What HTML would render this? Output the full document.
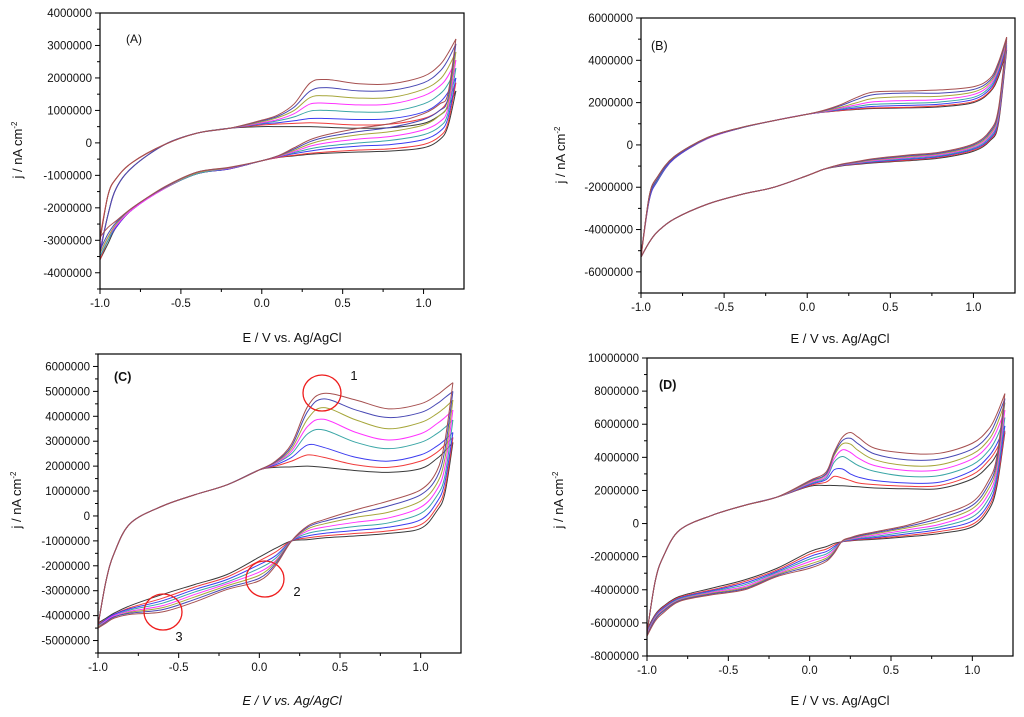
<!DOCTYPE html>
<html><head><meta charset="utf-8">
<style>
html,body{margin:0;padding:0;background:#fff;}
svg{display:block;}
text{font-family:"Liberation Sans",Arial,sans-serif;}
</style></head>
<body>
<svg id="fig" width="1024" height="717" viewBox="0 0 1024 717" xmlns="http://www.w3.org/2000/svg"></svg>
<script>
// ---------- DATA (currents in units of 1e6 nA cm^-2) ----------
const seriesNames = ["scan-1","scan-2","scan-3","scan-4","scan-5","scan-6","scan-7","scan-8"];
const seriesColors = ["#3a3a3a","#f03c3c","#3c3cf0","#3aa6a6","#ff33ff","#a6a63a","#4848b4","#a65050"];

const gridA = [-1,-0.95,-0.9,-0.8,-0.6,-0.4,-0.2,0,0.1,0.2,0.3,0.4,0.6,0.8,1.0,1.1,1.15,1.2];
const upperA = [
 [-3.0,-1.6,-1.1,-0.6,-0.05,0.3,0.45,0.5,0.5,0.5,0.5,0.48,0.45,0.47,0.6,0.85,1.1,1.6],
 [-2.9,-1.6,-1.1,-0.6,-0.05,0.3,0.45,0.55,0.58,0.6,0.62,0.6,0.55,0.58,0.75,1.0,1.3,1.85],
 [-3.3,-2.2,-1.4,-0.75,-0.05,0.3,0.45,0.58,0.62,0.68,0.75,0.75,0.72,0.75,0.95,1.25,1.55,2.0],
 [-3.3,-2.2,-1.4,-0.75,-0.05,0.3,0.45,0.6,0.68,0.8,0.98,1.0,0.95,0.97,1.2,1.5,1.8,2.3],
 [-3.3,-2.2,-1.4,-0.75,-0.05,0.3,0.45,0.62,0.72,0.9,1.2,1.22,1.17,1.2,1.45,1.75,2.05,2.55],
 [-3.4,-2.2,-1.4,-0.75,-0.05,0.3,0.45,0.65,0.78,1.0,1.4,1.45,1.38,1.4,1.65,1.95,2.3,2.8],
 [-3.4,-2.2,-1.4,-0.75,-0.05,0.3,0.45,0.68,0.82,1.1,1.6,1.7,1.6,1.62,1.85,2.2,2.55,3.05],
 [-3.0,-1.6,-1.1,-0.6,-0.05,0.3,0.45,0.7,0.86,1.2,1.85,1.95,1.82,1.82,2.05,2.4,2.75,3.2]
];
const lowerA = [
 [-3.6,-3.1,-2.6,-2.05,-1.4,-0.95,-0.8,-0.55,-0.45,-0.4,-0.35,-0.32,-0.28,-0.25,-0.15,0.1,0.5,1.6],
 [-3.6,-3.0,-2.6,-2.05,-1.4,-0.95,-0.8,-0.55,-0.45,-0.38,-0.32,-0.28,-0.22,-0.18,-0.05,0.2,0.6,1.85],
 [-3.5,-3.0,-2.6,-2.05,-1.4,-0.95,-0.8,-0.55,-0.43,-0.33,-0.25,-0.18,-0.1,-0.05,0.1,0.35,0.75,2.0],
 [-3.5,-3.0,-2.55,-2.05,-1.4,-0.95,-0.78,-0.55,-0.42,-0.3,-0.18,-0.1,0.0,0.08,0.25,0.5,0.9,2.3],
 [-3.4,-2.9,-2.55,-2.05,-1.4,-0.92,-0.78,-0.55,-0.42,-0.27,-0.1,0.0,0.12,0.2,0.4,0.65,1.05,2.55],
 [-3.4,-2.9,-2.5,-2.0,-1.38,-0.92,-0.77,-0.55,-0.41,-0.23,-0.03,0.1,0.25,0.35,0.55,0.85,1.2,2.8],
 [-3.3,-2.8,-2.45,-2.0,-1.37,-0.9,-0.76,-0.55,-0.4,-0.19,0.04,0.18,0.35,0.48,0.72,1.0,1.35,3.05],
 [-2.9,-2.6,-2.4,-2.0,-1.35,-0.9,-0.75,-0.55,-0.4,-0.15,0.1,0.25,0.45,0.6,0.9,1.2,1.5,3.2]
];

const gridB = [-1,-0.95,-0.9,-0.8,-0.6,-0.4,-0.2,0,0.1,0.2,0.3,0.4,0.6,0.8,1.0,1.1,1.15,1.2];
const upperB = [
 [-5.3,-2.4,-1.5,-0.55,0.35,0.82,1.15,1.45,1.55,1.62,1.68,1.72,1.75,1.8,2.0,2.5,3.2,4.5],
 [-5.3,-2.6,-1.7,-0.65,0.3,0.8,1.15,1.45,1.55,1.63,1.7,1.75,1.78,1.85,2.05,2.55,3.3,4.6],
 [-5.2,-2.6,-1.7,-0.65,0.3,0.8,1.15,1.45,1.56,1.66,1.75,1.82,1.87,1.93,2.15,2.65,3.4,4.7],
 [-5.2,-2.5,-1.65,-0.6,0.3,0.8,1.15,1.45,1.57,1.7,1.82,1.92,1.97,2.03,2.25,2.75,3.5,4.8],
 [-5.2,-2.5,-1.6,-0.6,0.3,0.8,1.15,1.45,1.58,1.74,1.9,2.04,2.1,2.15,2.38,2.85,3.6,4.9],
 [-5.2,-2.5,-1.6,-0.6,0.32,0.8,1.15,1.45,1.6,1.78,2.0,2.2,2.28,2.3,2.5,2.95,3.7,5.0],
 [-5.2,-2.5,-1.6,-0.6,0.32,0.8,1.15,1.45,1.62,1.85,2.15,2.38,2.45,2.45,2.62,3.05,3.8,5.05],
 [-5.3,-2.4,-1.5,-0.55,0.35,0.82,1.15,1.45,1.64,1.9,2.25,2.5,2.55,2.6,2.75,3.15,3.9,5.1]
];
const lowerB = [
 [-5.3,-4.6,-4.1,-3.5,-2.8,-2.35,-2.0,-1.45,-1.15,-1.0,-0.92,-0.85,-0.75,-0.62,-0.3,0.2,1.0,4.5],
 [-5.3,-4.6,-4.1,-3.5,-2.8,-2.35,-2.0,-1.45,-1.15,-0.98,-0.9,-0.82,-0.72,-0.58,-0.25,0.25,1.1,4.6],
 [-5.3,-4.6,-4.1,-3.5,-2.8,-2.35,-2.0,-1.45,-1.15,-0.97,-0.88,-0.8,-0.68,-0.54,-0.2,0.3,1.2,4.7],
 [-5.3,-4.6,-4.1,-3.5,-2.8,-2.35,-2.0,-1.45,-1.15,-0.96,-0.86,-0.77,-0.64,-0.5,-0.15,0.38,1.3,4.8],
 [-5.3,-4.6,-4.1,-3.5,-2.8,-2.35,-2.0,-1.45,-1.15,-0.95,-0.84,-0.74,-0.6,-0.46,-0.1,0.45,1.4,4.9],
 [-5.3,-4.6,-4.1,-3.5,-2.8,-2.35,-2.0,-1.45,-1.15,-0.94,-0.82,-0.71,-0.56,-0.42,-0.05,0.52,1.5,5.0],
 [-5.3,-4.6,-4.1,-3.5,-2.8,-2.35,-2.0,-1.45,-1.15,-0.93,-0.8,-0.68,-0.52,-0.38,0.0,0.6,1.6,5.05],
 [-5.3,-4.6,-4.1,-3.5,-2.8,-2.35,-2.0,-1.45,-1.15,-0.92,-0.78,-0.65,-0.48,-0.34,0.05,0.68,1.7,5.1]
];

const gridC = [-1,-0.95,-0.9,-0.8,-0.6,-0.4,-0.2,0,0.1,0.2,0.3,0.4,0.6,0.8,1.0,1.1,1.15,1.2];
const upperC = [
 [-4.4,-2.6,-1.5,-0.3,0.4,0.85,1.25,1.85,1.95,1.97,2.0,1.95,1.82,1.75,1.9,2.3,2.6,2.95],
 [-4.4,-2.6,-1.5,-0.3,0.4,0.85,1.25,1.85,2.0,2.2,2.45,2.35,2.05,1.95,2.2,2.55,2.85,3.15],
 [-4.4,-2.6,-1.5,-0.3,0.4,0.85,1.25,1.85,2.05,2.35,2.85,2.75,2.35,2.2,2.45,2.8,3.05,3.35],
 [-4.4,-2.6,-1.5,-0.3,0.4,0.85,1.25,1.85,2.1,2.5,3.3,3.45,2.95,2.7,2.95,3.3,3.55,3.85],
 [-4.4,-2.6,-1.5,-0.3,0.4,0.85,1.25,1.85,2.12,2.6,3.6,3.88,3.35,3.05,3.3,3.7,3.95,4.25],
 [-4.4,-2.6,-1.5,-0.3,0.4,0.85,1.25,1.85,2.15,2.7,3.9,4.35,3.85,3.5,3.75,4.1,4.35,4.65],
 [-4.4,-2.6,-1.5,-0.3,0.4,0.85,1.25,1.85,2.17,2.8,4.2,4.7,4.25,3.95,4.15,4.5,4.75,5.0],
 [-4.4,-2.6,-1.5,-0.3,0.4,0.85,1.25,1.85,2.2,2.9,4.4,4.92,4.65,4.3,4.5,4.85,5.1,5.35]
];
const lowerC = [
 [-4.3,-4.1,-3.9,-3.6,-3.15,-2.75,-2.35,-1.65,-1.3,-1.0,-0.95,-0.88,-0.8,-0.7,-0.5,0.2,0.9,2.95],
 [-4.35,-4.15,-3.95,-3.68,-3.3,-2.85,-2.45,-1.8,-1.45,-1.0,-0.88,-0.8,-0.7,-0.6,-0.35,0.35,1.1,3.15],
 [-4.4,-4.15,-3.95,-3.72,-3.4,-2.95,-2.55,-1.95,-1.6,-1.0,-0.8,-0.7,-0.58,-0.45,-0.15,0.55,1.35,3.35],
 [-4.4,-4.2,-4.0,-3.77,-3.5,-3.05,-2.65,-2.1,-1.7,-1.0,-0.7,-0.58,-0.42,-0.28,0.1,0.8,1.6,3.85],
 [-4.45,-4.2,-4.0,-3.82,-3.6,-3.15,-2.72,-2.25,-1.8,-1.0,-0.6,-0.45,-0.25,-0.08,0.35,1.05,1.95,4.25],
 [-4.45,-4.25,-4.05,-3.86,-3.68,-3.25,-2.8,-2.38,-1.85,-1.0,-0.52,-0.32,-0.05,0.15,0.6,1.3,2.3,4.65],
 [-4.5,-4.25,-4.05,-3.9,-3.76,-3.35,-2.88,-2.5,-1.92,-1.0,-0.45,-0.22,0.1,0.4,0.85,1.55,2.65,5.0],
 [-4.5,-4.3,-4.1,-3.95,-3.85,-3.45,-2.95,-2.6,-2.0,-1.0,-0.4,-0.15,0.25,0.6,1.05,1.8,3.0,5.35]
];

const gridD = [-1,-0.95,-0.9,-0.8,-0.6,-0.4,-0.2,0,0.1,0.15,0.2,0.25,0.3,0.4,0.6,0.8,1.0,1.1,1.15,1.2];
const upperD = [
 [-6.6,-3.5,-2.0,-0.4,0.5,1.1,1.6,2.25,2.3,2.3,2.28,2.25,2.22,2.15,2.1,2.12,2.7,3.5,4.2,5.5],
 [-6.6,-3.5,-2.0,-0.4,0.5,1.1,1.6,2.3,2.5,2.85,2.75,2.6,2.45,2.35,2.25,2.3,2.95,3.8,4.5,5.6],
 [-6.6,-3.5,-2.0,-0.4,0.5,1.1,1.6,2.35,2.65,3.25,3.3,3.0,2.8,2.6,2.45,2.5,3.2,4.05,4.8,5.9],
 [-6.6,-3.5,-2.0,-0.4,0.5,1.1,1.6,2.4,2.75,3.7,4.05,3.8,3.5,3.15,2.85,2.9,3.55,4.4,5.2,6.4],
 [-6.6,-3.5,-2.0,-0.4,0.5,1.1,1.6,2.45,2.85,3.9,4.45,4.3,3.95,3.5,3.2,3.25,3.9,4.75,5.6,6.85],
 [-6.6,-3.5,-2.0,-0.4,0.5,1.1,1.6,2.5,2.95,4.1,4.8,4.8,4.4,3.85,3.5,3.55,4.2,5.05,5.95,7.3],
 [-6.6,-3.5,-2.0,-0.4,0.5,1.1,1.6,2.55,3.0,4.2,5.0,5.15,4.8,4.2,3.85,3.9,4.5,5.35,6.3,7.55],
 [-6.6,-3.5,-2.0,-0.4,0.5,1.1,1.6,2.6,3.1,4.3,5.2,5.5,5.2,4.55,4.25,4.25,4.85,5.7,6.6,7.85]
];
const lowerD = [
 [-6.4,-5.5,-5.0,-4.4,-3.9,-3.4,-2.7,-1.7,-1.4,-1.2,-1.1,-1.05,-1.0,-0.95,-0.8,-0.6,-0.2,0.8,2.2,5.5],
 [-6.5,-5.55,-5.05,-4.45,-4.0,-3.5,-2.8,-1.85,-1.55,-1.3,-1.1,-1.03,-0.97,-0.9,-0.72,-0.48,-0.05,1.0,2.4,5.6],
 [-6.55,-5.6,-5.1,-4.5,-4.05,-3.6,-2.88,-2.0,-1.7,-1.4,-1.1,-1.0,-0.93,-0.85,-0.62,-0.35,0.15,1.2,2.65,5.9],
 [-6.6,-5.65,-5.15,-4.55,-4.1,-3.7,-2.95,-2.15,-1.85,-1.5,-1.09,-0.97,-0.89,-0.78,-0.5,-0.2,0.4,1.5,2.9,6.4],
 [-6.65,-5.7,-5.2,-4.6,-4.15,-3.8,-3.02,-2.3,-1.98,-1.6,-1.08,-0.94,-0.84,-0.7,-0.38,-0.05,0.65,1.8,3.2,6.85],
 [-6.7,-5.75,-5.25,-4.63,-4.2,-3.88,-3.08,-2.45,-2.1,-1.68,-1.07,-0.91,-0.79,-0.62,-0.26,0.15,0.9,2.1,3.5,7.3],
 [-6.75,-5.8,-5.3,-4.66,-4.25,-3.94,-3.14,-2.58,-2.2,-1.75,-1.06,-0.88,-0.75,-0.56,-0.18,0.32,1.1,2.35,3.75,7.55],
 [-6.8,-5.9,-5.4,-4.7,-4.3,-4.0,-3.2,-2.7,-2.3,-1.8,-1.05,-0.85,-0.7,-0.5,-0.1,0.5,1.3,2.6,4.0,7.85]
];

const xTicks = [-1.0,-0.5,0.0,0.5,1.0];
const xTickLabels = ["-1.0","-0.5","0.0","0.5","1.0"];
const yTicksA = [-4,-3,-2,-1,0,1,2,3,4];
const yTickLabelsA = ["-4000000","-3000000","-2000000","-1000000","0","1000000","2000000","3000000","4000000"];
const yTicksB = [-6,-4,-2,0,2,4,6];
const yTickLabelsB = ["-6000000","-4000000","-2000000","0","2000000","4000000","6000000"];
const yTicksC = [-5,-4,-3,-2,-1,0,1,2,3,4,5,6];
const yTickLabelsC = ["-5000000","-4000000","-3000000","-2000000","-1000000","0","1000000","2000000","3000000","4000000","5000000","6000000"];
const yTicksD = [-8,-6,-4,-2,0,2,4,6,8,10];
const yTickLabelsD = ["-8000000","-6000000","-4000000","-2000000","0","2000000","4000000","6000000","8000000","10000000"];

// ---------- RENDER ----------
const NS = "http://www.w3.org/2000/svg";
const svg = document.getElementById("fig");
function mk(tag, attrs, parent){
  const e = document.createElementNS(NS, tag);
  for (const k in attrs) e.setAttribute(k, attrs[k]);
  (parent||svg).appendChild(e);
  return e;
}
function smooth(pts){
  let d = "M"+pts[0][0].toFixed(2)+","+pts[0][1].toFixed(2);
  for (let i=0;i<pts.length-1;i++){
    const p0=pts[Math.max(0,i-1)], p1=pts[i], p2=pts[i+1], p3=pts[Math.min(pts.length-1,i+2)];
    const c1x=p1[0]+(p2[0]-p0[0])/6, c1y=p1[1]+(p2[1]-p0[1])/6;
    const c2x=p2[0]-(p3[0]-p1[0])/6, c2y=p2[1]-(p3[1]-p1[1])/6;
    d+=" C"+c1x.toFixed(2)+","+c1y.toFixed(2)+" "+c2x.toFixed(2)+","+c2y.toFixed(2)+" "+p2[0].toFixed(2)+","+p2[1].toFixed(2);
  }
  return d;
}

function panel(cfg){
  const g = mk("g", {});
  
  
  const xs = v => cfg.L + (v - cfg.xmin)/(cfg.xmax - cfg.xmin)*(cfg.R - cfg.L);
  const ys = v => cfg.B - (v - cfg.ymin)/(cfg.ymax - cfg.ymin)*(cfg.B - cfg.T);
  // curves
  const cg = mk("g", {"clip-path":"none"}, g);
  
  
  for (let s=0; s<cfg.upper.length; s++){
    const up = cfg.grid.map((e,i)=>[xs(e), ys(cfg.upper[s][i])]);
    const lo = cfg.grid.map((e,i)=>[xs(e), ys(cfg.lower[s][i])]).reverse();
    const p1 = mk("path", {d:smooth(up), fill:"none", stroke:seriesColors[s], "stroke-width":"1"}, cg);
    
    
    const p2 = mk("path", {d:smooth(lo), fill:"none", stroke:seriesColors[s], "stroke-width":"1"}, cg);
    
    
  }
  // frame
  const fr = mk("rect", {x:cfg.L, y:cfg.T, width:cfg.R-cfg.L, height:cfg.B-cfg.T, fill:"none", stroke:"#000", "stroke-width":"1.2"}, g);
  
  
  // x ticks
  for (let v=-1; v<=1.2001; v+=0.25){
    const x=xs(v), major = Math.abs(v*2-Math.round(v*2))<1e-6;
    const t = mk("line",{x1:x,x2:x,y1:cfg.B,y2:cfg.B+(major?5:3),stroke:"#000","stroke-width":"1"},g);
    
    
  }
  xTicks.forEach((v,i)=>{
    const t = mk("text",{x:xs(v), y:cfg.B+18, "font-size":"11.5", "text-anchor":"middle", fill:"#111"},g);
    t.textContent = xTickLabels[i];
    
    
  });
  // y ticks
  const step = cfg.yTicks[1]-cfg.yTicks[0];
  for (let v=cfg.ymin; v<=cfg.ymax+1e-6; v+=step/2){
    const y=ys(v), major = Math.abs((v-cfg.yTicks[0])/step - Math.round((v-cfg.yTicks[0])/step))<1e-6;
    const t = mk("line",{x1:cfg.L-(major?5:3),x2:cfg.L,y1:y,y2:y,stroke:"#000","stroke-width":"1"},g);
    
    
  }
  cfg.yTicks.forEach((v,i)=>{
    const t = mk("text",{x:cfg.L-8, y:ys(v)+4, "font-size":"11.5", "text-anchor":"end", fill:"#111"},g);
    t.textContent = cfg.yTickLabels[i];
    
    
  });
  // axis titles
  const xt = mk("text",{x:cfg.xtx, y:cfg.xty, "font-size":"13", "text-anchor":"middle", fill:"#111", "font-style":cfg.italic?"italic":"normal"},g);
  xt.textContent = "E / V vs. Ag/AgCl";
  
  
  const yt = mk("text",{transform:"translate("+cfg.ytx+","+cfg.yty+") rotate(-90)", "font-size":"13", "text-anchor":"middle", fill:"#111"},g);
  yt.innerHTML = 'j / nA cm<tspan dy="-5" font-size="8">-2</tspan>';
  
  
  // panel label
  const pl = mk("text",{x:cfg.lx, y:cfg.ly, "font-size":cfg.lserif?"12":"12.5", "font-weight":cfg.lbold?"bold":"normal", fill:"#111", "font-family":cfg.lserif?'"Liberation Serif",serif':'"Liberation Sans",sans-serif'},g);
  pl.textContent = cfg.label;
  
  
  return {xs, ys, g};
}

panel({name:"panel-a", L:100, R:464, T:13, B:289, xmin:-1, xmax:1.25, ymin:-4.5, ymax:4,
  grid:gridA, upper:upperA, lower:lowerA, yTicks:yTicksA, yTickLabels:yTickLabelsA,
  xtx:292, xty:342, ytx:22, yty:150, label:"(A)", lx:126, ly:43, lserif:true});
panel({name:"panel-b", L:641, R:1015, T:18, B:293, xmin:-1, xmax:1.25, ymin:-7, ymax:6,
  grid:gridB, upper:upperB, lower:lowerB, yTicks:yTicksB, yTickLabels:yTickLabelsB,
  xtx:840, xty:343, ytx:565, yty:155, label:"(B)", lx:651, ly:50});
const pc = panel({name:"panel-c", L:98, R:461, T:354, B:653, xmin:-1, xmax:1.25, ymin:-5.5, ymax:6.5,
  grid:gridC, upper:upperC, lower:lowerC, yTicks:yTicksC, yTickLabels:yTickLabelsC,
  xtx:292, xty:705, ytx:21, yty:500, label:"(C)", lx:114, ly:381, lbold:true, italic:true});
panel({name:"panel-d", L:647, R:1013, T:358, B:656, xmin:-1, xmax:1.25, ymin:-8, ymax:10,
  grid:gridD, upper:upperD, lower:lowerD, yTicks:yTicksD, yTickLabels:yTickLabelsD,
  xtx:840, xty:705, ytx:563, yty:500, label:"(D)", lx:659, ly:389, lbold:true});

// annotation circles in panel C
const circles = [[322,393,"1",354,380],[265,579,"2",297,596],[163,612,"3",179,641]];
circles.forEach(c=>{
  const ci = mk("ellipse",{cx:c[0], cy:c[1], rx:19, ry:18, fill:"none", stroke:"#ee1c1c", "stroke-width":"1.3"}, pc.g);
  
  
  const t = mk("text",{x:c[3], y:c[4], "font-size":"13", fill:"#111", "text-anchor":"middle"}, pc.g);
  t.textContent = c[2];
  
  
});
</script>
</body></html>
